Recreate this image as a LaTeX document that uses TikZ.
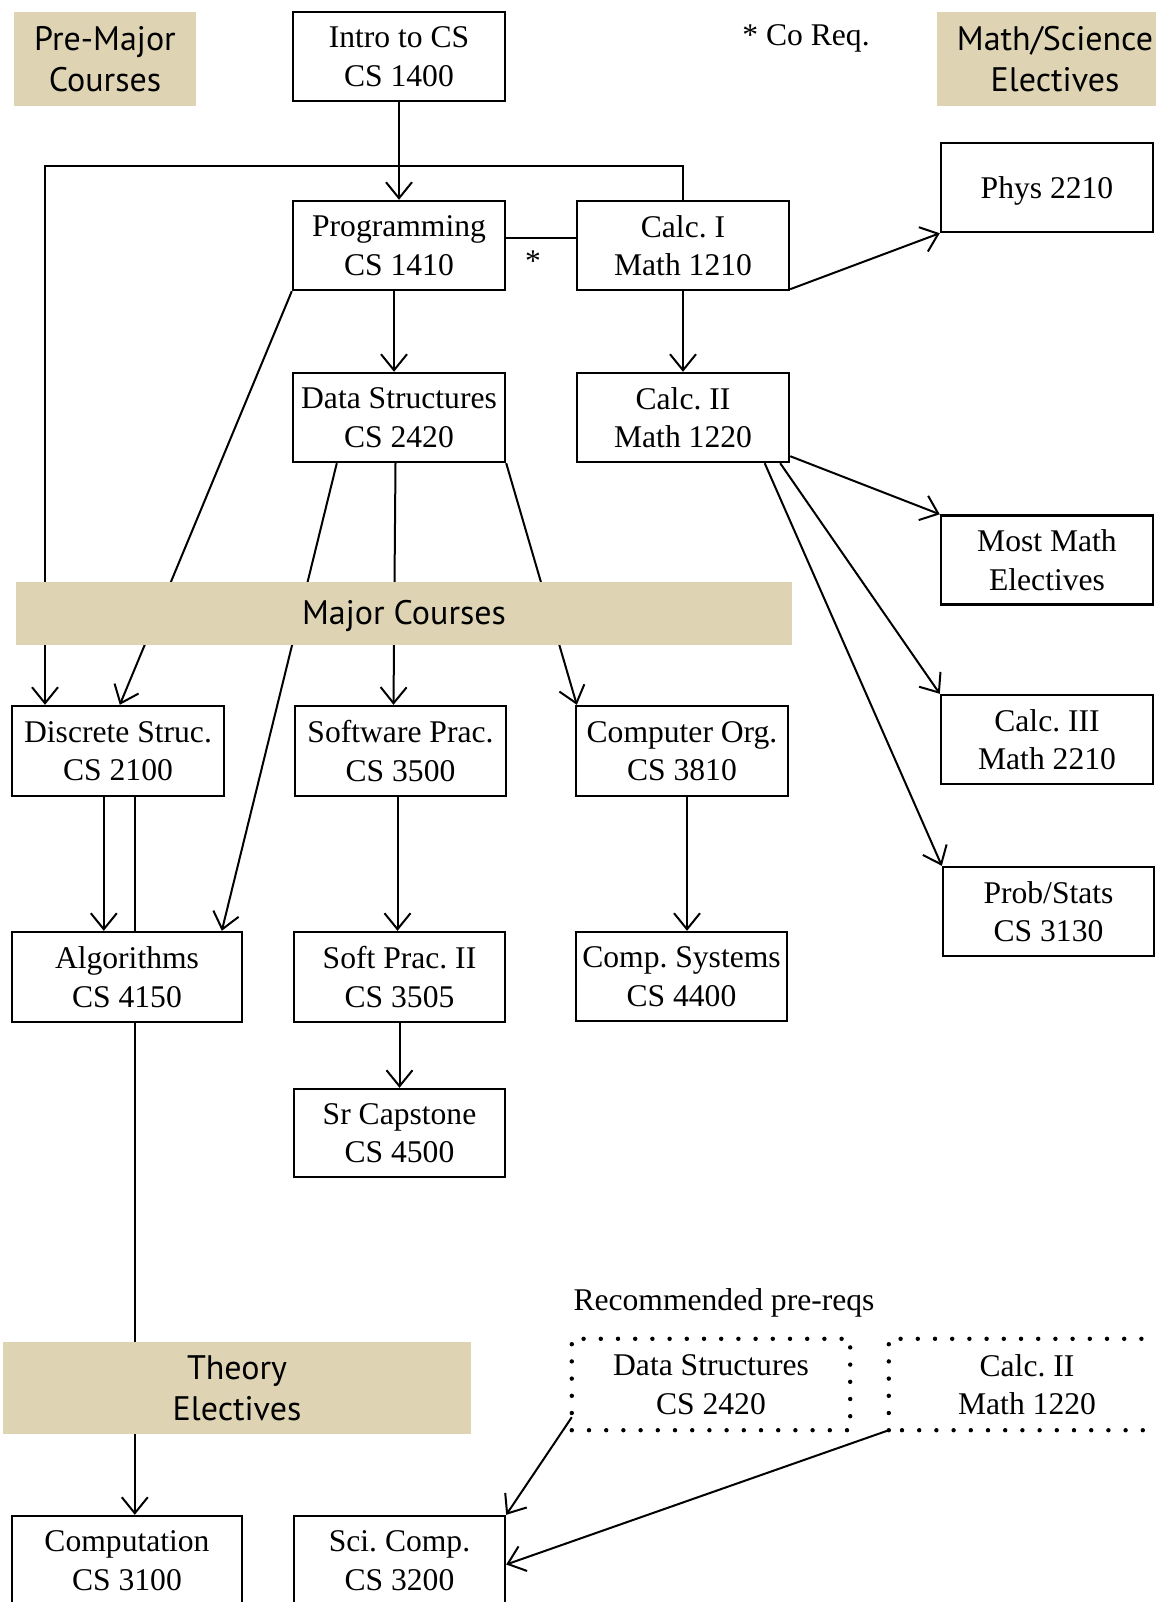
\documentclass[tikz,border=0pt]{standalone}
\usepackage{fontspec}
\setmainfont{Liberation Serif}
\newfontfamily\lblfont{PT Sans}
\usetikzlibrary{arrows.meta}
\definecolor{bandtan}{RGB}{222,212,180}
\pgfdeclarelayer{bg}
\pgfsetlayers{bg,main}
\frenchspacing
\begin{document}
\begin{tikzpicture}[x=0.5pt,y=-0.5pt,
  course/.style={draw, line width=1.2pt, fill=white, minimum width=106pt, minimum height=44.5pt,
    inner sep=0pt, align=center, font=\fontsize{15.8}{19.4}\selectfont, text depth=-2.8pt},
  recbox/.style={course, draw=none, fill=none},
  dotline/.style={line width=2.2pt, line cap=round, dash pattern=on 0pt off 8.6pt},
  band/.style={fill=bandtan, inner sep=0pt, align=center, font=\lblfont\fontsize{17}{20.5}\selectfont,
    execute at begin node={\rule{0pt}{15pt}}},
  plain/.style={inner sep=0pt, font=\fontsize{15.8}{19.4}\selectfont},
  arr/.style={line width=1pt, -{Straight Barb[length=8pt,width=13pt]}},
  ln/.style={line width=1pt}]
\useasboundingbox (0,0) rectangle (1156,1602);
\clip (0,0) rectangle (1156,1602);

% bands
\node[band, minimum width=91pt, minimum height=47pt] (premaj) at (105,59) {Pre-Major\\Courses};
\node[band, minimum width=118pt, minimum height=47pt] (mathsci) at (1055,59) {Math/Science\\Electives};
\node[band, minimum width=388pt, minimum height=31.5pt] (major) at (404,613.5) {Major Courses};
\node[band, minimum width=234pt, minimum height=46pt] (theory) at (237,1388) {Theory\\Electives};

% plain texts
\node[plain] (coreq) at (806,38) {* Co Req.};
\node[plain] (star) at (533,261) {*};
\node[plain] (recom) at (724,1303) {Recommended pre-reqs};

% course boxes
\node[course] (intro) at (399,56.5) {Intro to CS\\CS 1400};
\node[course] (prog) at (399,245.5) {Programming\\CS 1410};
\node[course] (calc1) at (683,245.5) {Calc. I\\Math 1210};
\node[course, text depth=0pt] (phys) at (1047,187.5) {Phys 2210};
\node[course] (ds) at (399,417.5) {Data Structures\\CS 2420};
\node[course] (calc2) at (683,417.5) {Calc. II\\Math 1220};
\node[course] (mostmath) at (1047,560) {Most Math\\Electives};
\node[course] (calc3) at (1047,739.5) {Calc. III\\Math 2210};
\node[course, minimum width=105.5pt] (prob) at (1048.5,911.5) {Prob/Stats\\CS 3130};
\node[course, minimum height=45pt] (disc) at (118,751) {Discrete Struc.\\CS 2100};
\node[course, minimum width=105.5pt, minimum height=45pt] (swp) at (400.5,751) {Software Prac.\\CS 3500};
\node[course, minimum height=45pt] (co) at (682,751) {Computer Org.\\CS 3810};
\node[course, minimum width=115pt, minimum height=45pt] (alg) at (127,977) {Algorithms\\CS 4150};
\node[course, minimum width=105.5pt, minimum height=45pt] (spii) at (399.5,977) {Soft Prac. II\\CS 3505};
\node[course, minimum width=105.5pt] (csys) at (681.5,976.5) {Comp. Systems\\CS 4400};
\node[course, minimum width=105.5pt, minimum height=44pt] (cap) at (399.5,1133) {Sr Capstone\\CS 4500};
\node[recbox, minimum width=138pt] (rds) at (711,1384.5) {Data Structures\\CS 2420};
\node[recbox, minimum width=137pt] (rc2) at (1027,1384.5) {Calc. II\\Math 1220};
\node[course, minimum width=115pt] (comp) at (127,1560.5) {Computation\\CS 3100};
\node[course, minimum width=105.5pt] (sci) at (399.5,1560.5) {Sci. Comp.\\CS 3200};

% dotted borders
\draw[dotline] (rds.south west) rectangle (rds.north east);
\draw[dotline] (rc2.south west) rectangle (rc2.north east);

% connectors
\begin{pgfonlayer}{bg}
\coordinate (j) at (45,166);
\draw[arr] (intro) -- (prog);
\draw[arr] (calc1.north) |- (j) -- (j |- disc.north);
\draw[ln] ([yshift=3.75pt]prog.east) -- ([yshift=3.75pt]calc1.west);
\draw[arr] ([yshift=1pt]calc1.south east) -- (phys.south west);
\draw[arr] ([xshift=-2.5pt]prog.south) -- ([xshift=-2.5pt]ds.north);
\draw[arr] (calc1) -- (calc2);
\draw[arr] (prog.south west) -- ([xshift=54.5pt]disc.north west);
\draw[arr] ([xshift=22.5pt]ds.south west) -- ([xshift=105.5pt]alg.north west);
\draw[arr] ([xshift=-1.75pt]ds.south) -- ([xshift=-3.5pt]swp.north);
\draw[arr] (ds.south east) -- ([xshift=1pt]co.north west);
\draw[arr] ([yshift=3.5pt]calc2.south east) -- (mostmath.north west);
\draw[arr] ([xshift=-5pt]calc2.south east) -- (calc3.north west);
\draw[arr] ([xshift=-12.75pt]calc2.south east) -- (prob.north west);
\draw[arr] ([xshift=46.5pt]disc.south west) -- ([xshift=46.5pt]alg.north west);
\draw[arr] ([xshift=62pt]disc.south west) -- ([xshift=62pt]comp.north west);
\draw[arr] ([xshift=-1.5pt]swp.south) -- ([xshift=-1pt]spii.north);
\draw[arr] ([xshift=2.5pt]co.south) -- ([xshift=2.75pt]csys.north);
\draw[arr] (spii) -- (cap);
\draw[arr] ([yshift=6.5pt]rds.south west) -- (sci.north east);
\draw[arr] (rc2.south west) -- ([yshift=-2pt]sci.east);
\end{pgfonlayer}
\end{tikzpicture}
\end{document}
